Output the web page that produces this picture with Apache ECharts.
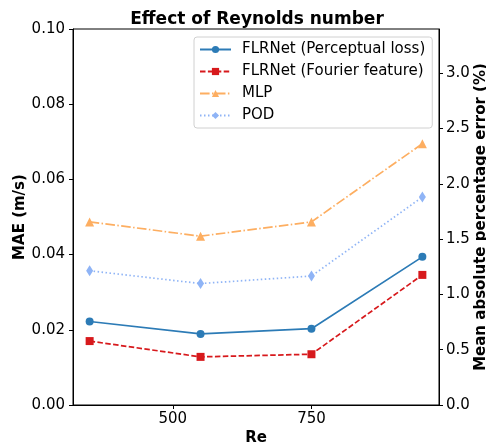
<!DOCTYPE html>
<html>
<head>
    <meta charset="utf-8">
    <title>Effect of Reynolds number</title>
    <script src="https://cdn.jsdelivr.net/npm/echarts@6/dist/echarts.min.js"></script>
</head>
<body style="margin:0">
<div id="main" style="height: 446px; width: 486px;"></div>
<script type="text/javascript">
    // values
    var reValues = [350, 550, 750, 950];
    var perceptual = [0.0222, 0.0189, 0.0203, 0.0394];
    var fourier = [0.0170, 0.0128, 0.0135, 0.0346];
    var mlp = [0.0487, 0.0449, 0.0487, 0.0695];
    var pod = [0.0357, 0.0323, 0.0343, 0.0553];
    var xTicks = [500, 750];
    var rightTicks = [0, 0.5, 1.0, 1.5, 2.0, 2.5, 3.0];

    var font = 'DejaVu Sans';
    var myChart = echarts.init(document.getElementById('main'));

    function pairs(v) {
        var d = [];
        for (var i = 0; i < v.length; i++) d.push([reValues[i], v[i]]);
        return d;
    }

    function line(name, v, color, type, symbol, size) {
        return {
            name: name,
            type: 'line',
            data: pairs(v),
            symbol: symbol,
            symbolSize: size,
            showAllSymbol: true,
            itemStyle: { color: color },
            lineStyle: { color: color, width: 1.7, type: type },
            emphasis: { disabled: true },
            animation: false
        };
    }

    var axisText = { color: '#000', fontFamily: font, fontSize: 15 };
    var nameText = { color: '#000', fontFamily: font, fontSize: 15, fontWeight: 'bold' };

    option = {
        title: {
            text: 'Effect of Reynolds number',
            left: 252,
            top: 6,
            textAlign: 'center',
            textStyle: { color: '#000', fontFamily: font, fontSize: 17, fontWeight: 'bold' }
        },
        grid: {
            left: 73,
            right: 47,
            top: 29,
            bottom: 41,
            outerBoundsMode: 'none',
            containLabel: false,
            show: true,
            borderColor: '#000',
            borderWidth: 1
        },
        legend: {
            orient: 'vertical',
            left: 194,
            top: 37,
            itemWidth: 31,
            itemHeight: 9,
            itemGap: 7,
            padding: [5, 7, 5, 5],
            borderColor: '#d0d0d0',
            borderWidth: 1,
            borderRadius: 3,
            backgroundColor: 'rgba(255,255,255,0.8)',
            textStyle: { color: '#000', fontFamily: font, fontSize: 15, padding: [0, 0, 0, 6] },
            data: ['FLRNet (Perceptual loss)', 'FLRNet (Fourier feature)', 'MLP', 'POD']
        },
        xAxis: {
            type: 'value',
            min: 320,
            max: 980,
            name: 'Re',
            nameLocation: 'middle',
            nameGap: 26,
            nameMoveOverlap: false,
            nameTextStyle: nameText,
            axisLine: { lineStyle: { color: '#000' } },
            axisTick: { length: 4, lineStyle: { color: '#000' }, customValues: xTicks },
            axisLabel: Object.assign({ margin: 7, customValues: xTicks }, axisText),
            splitLine: { show: false }
        },
        yAxis: [
            {
                type: 'value',
                min: 0,
                max: 0.1,
                interval: 0.02,
                name: 'MAE (m/s)',
                nameLocation: 'middle',
                nameGap: 45,
                nameMoveOverlap: false,
                nameTextStyle: nameText,
                axisLine: { show: true, lineStyle: { color: '#000' } },
                axisTick: { show: true, length: 4, lineStyle: { color: '#000' } },
                axisLabel: Object.assign({
                    margin: 8,
                    formatter: function(v) { return v.toFixed(2); }
                }, axisText),
                splitLine: { show: false }
            },
            {
                type: 'value',
                position: 'right',
                min: 0,
                max: 3.40,
                name: 'Mean absolute percentage error (%)',
                nameLocation: 'middle',
                nameGap: 35,
                nameRotate: 90,
                nameMoveOverlap: false,
                nameTextStyle: nameText,
                axisLine: { show: true, lineStyle: { color: '#000' } },
                axisTick: { show: true, length: 4, lineStyle: { color: '#000' }, customValues: rightTicks },
                axisLabel: Object.assign({
                    margin: 7,
                    customValues: rightTicks,
                    formatter: function(v) { return v.toFixed(1); }
                }, axisText),
                splitLine: { show: false }
            }
        ],
        series: [
            line('FLRNet (Perceptual loss)', perceptual, '#2c7bb6', 'solid', 'circle', 8),
            line('FLRNet (Fourier feature)', fourier, '#d7191c', [5.5, 2.4], 'rect', 8),
            line('MLP', mlp, '#fdae61', [9.6, 2.4, 1.5, 2.4], 'triangle', 9),
            line('POD', pod, '#8fb4f6', [1.5, 2.5], 'diamond', [7, 11])
        ]
    };

    myChart.setOption(option);
</script>
</body>
</html>
